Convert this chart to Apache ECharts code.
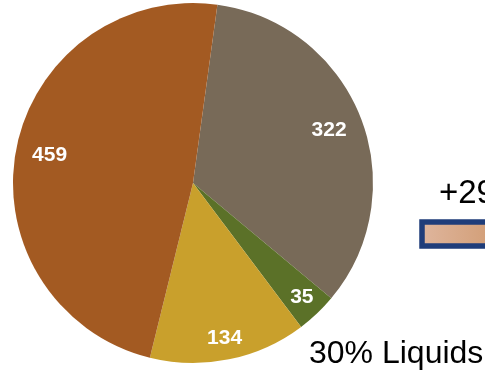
<!DOCTYPE html>
<html>
<head>
<meta charset="utf-8">
<script src="https://cdn.jsdelivr.net/npm/echarts@6/dist/echarts.min.js"></script>
<style>
  html, body { margin: 0; padding: 0; background: #ffffff; }
  #chart { width: 485px; height: 370px; }
</style>
</head>
<body>
<div id="chart"></div>
<script>
// Slice values, clockwise from the top
const sliceNames = ['A', 'B', 'C', 'D'];
const sliceValues = [322, 35, 134, 459];
const sliceColors = ['#786a58', '#5b7128', '#c9a02c', '#a35a22'];
// Large slices carry their label a little closer to the centre
const labelNear = [true, false, false, true];

const sideNote = '+29';
const footNote = '30% Liquids';

const FONT = 'Arial, "Liberation Sans", Helvetica, sans-serif';
const CENTER = [193, 183];
const R = 180;
const START = 82.2;

const chart = echarts.init(document.getElementById('chart'), null, { renderer: 'canvas' });

function sliceData(withColor, showFn) {
  return sliceValues.map((v, i) => ({
    name: sliceNames[i],
    value: v,
    itemStyle: withColor ? { color: sliceColors[i] } : { color: 'rgba(0,0,0,0)' },
    label: { show: showFn ? showFn(i) : false }
  }));
}

const labelStyle = {
  position: 'inside',
  formatter: p => String(p.value),
  color: '#ffffff',
  fontFamily: FONT,
  fontWeight: 'bold',
  fontSize: 21
};

// Transparent ring that only carries the value labels
const overlay = (radius, showFn) => ({
  type: 'pie',
  center: CENTER,
  radius: radius,
  startAngle: START,
  clockwise: true,
  silent: true,
  animation: false,
  avoidLabelOverlap: false,
  labelLine: { show: false },
  label: labelStyle,
  emphasis: { disabled: true },
  data: sliceData(false, showFn)
});

chart.setOption({
  animation: false,
  series: [
    {
      type: 'pie',
      center: CENTER,
      radius: [0, R],
      startAngle: START,
      clockwise: true,
      silent: true,
      animation: false,
      label: { show: false },
      labelLine: { show: false },
      itemStyle: { borderWidth: 0 },
      emphasis: { disabled: true },
      data: sliceData(true, null)
    },
    overlay([106, R], i => labelNear[i]),
    overlay([130, R], i => !labelNear[i])
  ],
  graphic: [
    {
      type: 'text',
      left: 439,
      top: 177,
      style: { text: sideNote, fontFamily: FONT, fontSize: 33, fill: '#000000' }
    },
    {
      type: 'rect',
      shape: { x: 422, y: 222, width: 80, height: 24 },
      style: {
        fill: {
          type: 'linear', x: 0, y: 0, x2: 1, y2: 0,
          colorStops: [
            { offset: 0, color: '#dfb69e' },
            { offset: 1, color: '#d09a70' }
          ]
        },
        stroke: '#1f3d7a',
        lineWidth: 5.5
      }
    },
    {
      type: 'text',
      left: 309,
      top: 338,
      style: { text: footNote, fontFamily: FONT, fontSize: 32, fill: '#000000' }
    }
  ]
});
</script>
</body>
</html>
